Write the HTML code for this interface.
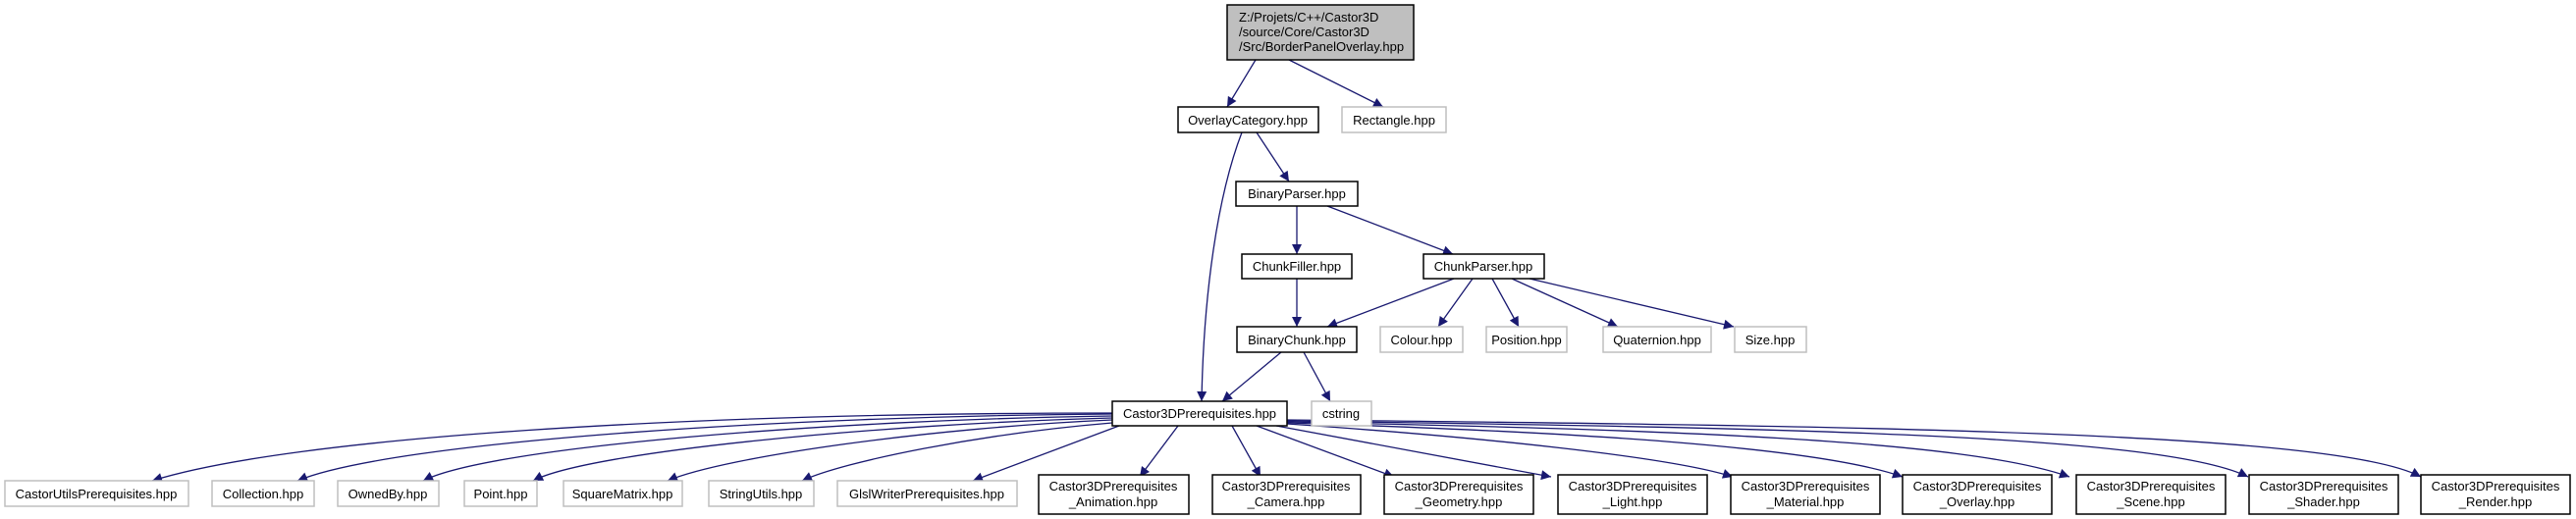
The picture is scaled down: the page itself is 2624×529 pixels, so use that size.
<!DOCTYPE html>
<html><head><meta charset="utf-8"><style>
html,body{margin:0;padding:0;background:#fff;width:2624px;height:529px;overflow:hidden}
svg text{font-family:"Liberation Sans",sans-serif;font-size:13px;fill:#000}
</style></head><body>
<svg width="2624" height="529" viewBox="0 0 2624 529" xmlns="http://www.w3.org/2000/svg">
<defs><marker id="a" viewBox="0 0 10 10" refX="10" refY="5" markerWidth="11" markerHeight="10" markerUnits="userSpaceOnUse" orient="auto"><path d="M0,0L10,5L0,10z" fill="#191970"/></marker></defs>
<g fill="none" stroke="#191970" stroke-width="1.3" marker-end="url(#a)">
<path d="M1279,61L1250,109"/>
<path d="M1313,61L1409,109"/>
<path d="M1280,135L1313,185"/>
<path d="M1265,135C1240,200 1226,300 1224,409"/>
<path d="M1321,210L1321,259"/>
<path d="M1352,210L1480,259"/>
<path d="M1321,284L1321,333"/>
<path d="M1481,284L1352,333"/>
<path d="M1500,284L1465,333"/>
<path d="M1520,284L1547,333"/>
<path d="M1540,284L1648,333"/>
<path d="M1558,284L1766,333"/>
<path d="M1305,359L1245,409"/>
<path d="M1328,359L1355,409"/>
<path d="M1133,421C700,421 300,445 155,490"/>
<path d="M1133,422C800,424 400,450 303,490"/>
<path d="M1133,424C850,428 500,455 431,490"/>
<path d="M1133,426C900,432 600,460 543,490"/>
<path d="M1133,428C950,436 740,465 680,490"/>
<path d="M1133,431C1000,442 860,470 817,490"/>
<path d="M1140,434L991,490"/>
<path d="M1200,434L1161,486"/>
<path d="M1255,434L1284,486"/>
<path d="M1280,434L1420,486"/>
<path d="M1300,434L1580,486"/>
<path d="M1311,432C1500,445 1700,465 1765,486"/>
<path d="M1311,431C1600,440 1850,455 1938,486"/>
<path d="M1311,430C1700,438 2000,448 2108,486"/>
<path d="M1311,429C1800,436 2200,442 2290,486"/>
<path d="M1311,428C1900,434 2380,440 2466,486"/>
</g>
<g stroke-width="1.5">
<rect x="1250" y="5" width="190" height="56" fill="#bfbfbf" stroke="#000"/>
<rect x="1200" y="109" width="143" height="26" fill="#fff" stroke="#000"/>
<rect x="1367" y="109" width="106" height="26" fill="#fff" stroke="#bfbfbf"/>
<rect x="1259" y="185" width="124" height="25" fill="#fff" stroke="#000"/>
<rect x="1265" y="259" width="112" height="25" fill="#fff" stroke="#000"/>
<rect x="1450" y="259" width="123" height="25" fill="#fff" stroke="#000"/>
<rect x="1260" y="333" width="122" height="26" fill="#fff" stroke="#000"/>
<rect x="1406" y="333" width="84" height="26" fill="#fff" stroke="#bfbfbf"/>
<rect x="1514" y="333" width="82" height="26" fill="#fff" stroke="#bfbfbf"/>
<rect x="1633" y="333" width="110" height="26" fill="#fff" stroke="#bfbfbf"/>
<rect x="1767" y="333" width="73" height="26" fill="#fff" stroke="#bfbfbf"/>
<rect x="1133" y="409" width="178" height="25" fill="#fff" stroke="#000"/>
<rect x="1336" y="409" width="61" height="25" fill="#fff" stroke="#bfbfbf"/>
<rect x="5" y="490" width="187" height="26" fill="#fff" stroke="#bfbfbf"/>
<rect x="216" y="490" width="104" height="26" fill="#fff" stroke="#bfbfbf"/>
<rect x="344" y="490" width="103" height="26" fill="#fff" stroke="#bfbfbf"/>
<rect x="473" y="490" width="74" height="26" fill="#fff" stroke="#bfbfbf"/>
<rect x="574" y="490" width="121" height="26" fill="#fff" stroke="#bfbfbf"/>
<rect x="722" y="490" width="107" height="26" fill="#fff" stroke="#bfbfbf"/>
<rect x="853" y="490" width="183" height="26" fill="#fff" stroke="#bfbfbf"/>
<g fill="#fff" stroke="#000">
<rect x="1058" y="484" width="153" height="40"/>
<rect x="1235" y="484" width="151" height="40"/>
<rect x="1410" y="484" width="152" height="40"/>
<rect x="1587" y="484" width="152" height="40"/>
<rect x="1763" y="484" width="152" height="40"/>
<rect x="1938" y="484" width="152" height="40"/>
<rect x="2115" y="484" width="152" height="40"/>
<rect x="2291" y="484" width="152" height="40"/>
<rect x="2466" y="484" width="152" height="40"/>
</g>
</g>
<text x="1262" y="22">Z:/Projets/C++/Castor3D</text>
<text x="1262" y="37">/source/Core/Castor3D</text>
<text x="1262" y="52">/Src/BorderPanelOverlay.hpp</text>
<g text-anchor="middle">
<text x="1271" y="127">OverlayCategory.hpp</text>
<text x="1420" y="127">Rectangle.hpp</text>
<text x="1321" y="202">BinaryParser.hpp</text>
<text x="1321" y="276">ChunkFiller.hpp</text>
<text x="1511" y="276">ChunkParser.hpp</text>
<text x="1321" y="351">BinaryChunk.hpp</text>
<text x="1448" y="351">Colour.hpp</text>
<text x="1555" y="351">Position.hpp</text>
<text x="1688" y="351">Quaternion.hpp</text>
<text x="1803" y="351">Size.hpp</text>
<text x="1222" y="426">Castor3DPrerequisites.hpp</text>
<text x="1366" y="426">cstring</text>
<text x="98" y="508">CastorUtilsPrerequisites.hpp</text>
<text x="268" y="508">Collection.hpp</text>
<text x="395" y="508">OwnedBy.hpp</text>
<text x="510" y="508">Point.hpp</text>
<text x="634" y="508">SquareMatrix.hpp</text>
<text x="775" y="508">StringUtils.hpp</text>
<text x="944" y="508">GlslWriterPrerequisites.hpp</text>
<text x="1134" y="500">Castor3DPrerequisites</text><text x="1134" y="516">_Animation.hpp</text>
<text x="1310" y="500">Castor3DPrerequisites</text><text x="1310" y="516">_Camera.hpp</text>
<text x="1486" y="500">Castor3DPrerequisites</text><text x="1486" y="516">_Geometry.hpp</text>
<text x="1663" y="500">Castor3DPrerequisites</text><text x="1663" y="516">_Light.hpp</text>
<text x="1839" y="500">Castor3DPrerequisites</text><text x="1839" y="516">_Material.hpp</text>
<text x="2014" y="500">Castor3DPrerequisites</text><text x="2014" y="516">_Overlay.hpp</text>
<text x="2191" y="500">Castor3DPrerequisites</text><text x="2191" y="516">_Scene.hpp</text>
<text x="2367" y="500">Castor3DPrerequisites</text><text x="2367" y="516">_Shader.hpp</text>
<text x="2542" y="500">Castor3DPrerequisites</text><text x="2542" y="516">_Render.hpp</text>
</g>
</svg>
</body></html>
